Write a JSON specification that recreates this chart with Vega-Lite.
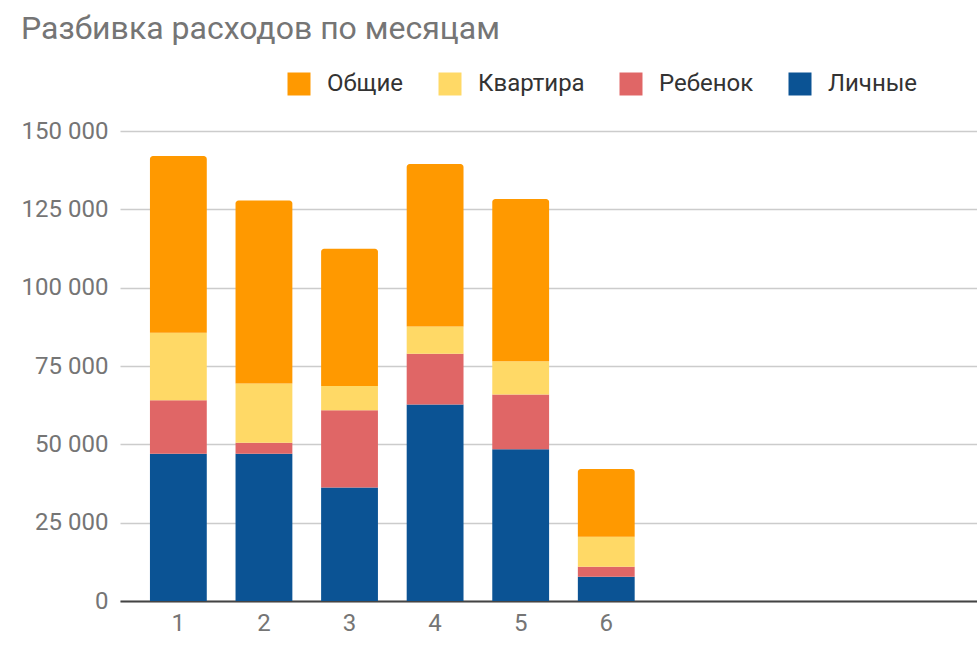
{
  "$schema": "https://vega.github.io/schema/vega-lite/v6.json",
  "width": 857,
  "height": 470,
  "autosize": {"type": "none"},
  "padding": {"left": 120, "top": 131, "right": 0, "bottom": 56},
  "background": "white",
  "config": {
    "font": "Roboto",
    "view": {"stroke": null},
    "locale": {"number": {"decimal": ",", "thousands": " ", "grouping": [3], "currency": ["", ""]}}
  },
  "title": {
    "text": "Разбивка расходов по месяцам",
    "anchor": "start",
    "frame": "group",
    "fontSize": 32,
    "fontWeight": "normal",
    "color": "#757575",
    "dx": -99,
    "dy": -22
  },
  "data": {
    "values": [
      {"month": 1, "series": "Личные", "rank": 1, "value": 47000},
      {"month": 1, "series": "Ребенок", "rank": 2, "value": 17100},
      {"month": 1, "series": "Квартира", "rank": 3, "value": 21500},
      {"month": 1, "series": "Общие", "rank": 4, "value": 56400},
      {"month": 2, "series": "Личные", "rank": 1, "value": 47000},
      {"month": 2, "series": "Ребенок", "rank": 2, "value": 3500},
      {"month": 2, "series": "Квартира", "rank": 3, "value": 18900},
      {"month": 2, "series": "Общие", "rank": 4, "value": 58400},
      {"month": 3, "series": "Личные", "rank": 1, "value": 36200},
      {"month": 3, "series": "Ребенок", "rank": 2, "value": 24650},
      {"month": 3, "series": "Квартира", "rank": 3, "value": 7800},
      {"month": 3, "series": "Общие", "rank": 4, "value": 43750},
      {"month": 4, "series": "Личные", "rank": 1, "value": 62700},
      {"month": 4, "series": "Ребенок", "rank": 2, "value": 16200},
      {"month": 4, "series": "Квартира", "rank": 3, "value": 8700},
      {"month": 4, "series": "Общие", "rank": 4, "value": 51900},
      {"month": 5, "series": "Личные", "rank": 1, "value": 48400},
      {"month": 5, "series": "Ребенок", "rank": 2, "value": 17500},
      {"month": 5, "series": "Квартира", "rank": 3, "value": 10600},
      {"month": 5, "series": "Общие", "rank": 4, "value": 51800},
      {"month": 6, "series": "Личные", "rank": 1, "value": 7750},
      {"month": 6, "series": "Ребенок", "rank": 2, "value": 3150},
      {"month": 6, "series": "Квартира", "rank": 3, "value": 9600},
      {"month": 6, "series": "Общие", "rank": 4, "value": 21600}
    ]
  },
  "transform": [
    {"stack": "value", "groupby": ["month"], "sort": [{"field": "rank", "order": "ascending"}], "as": ["y0", "y1"]}
  ],
  "encoding": {
    "x": {
      "field": "month",
      "type": "ordinal",
      "scale": {"domain": [1, 2, 3, 4, 5, 6, 7, 8, 9, 10], "paddingInner": 0.336, "paddingOuter": 0.175, "align": 1},
      "axis": {
        "title": null,
        "labelAngle": 0,
        "labelFontSize": 24,
        "labelColor": "#757575",
        "labelPadding": 10,
        "ticks": false,
        "domainColor": "#444444",
        "domainWidth": 2,
        "labelExpr": "datum.value > 6 ? '' : datum.label"
      }
    },
    "y": {
      "field": "y1",
      "type": "quantitative",
      "scale": {"domain": [0, 150000], "nice": false},
      "axis": {
        "title": null,
        "values": [0, 25000, 50000, 75000, 100000, 125000, 150000],
        "format": ",d",
        "labelFontSize": 24,
        "labelColor": "#757575",
        "labelPadding": 12,
        "ticks": false,
        "domain": false,
        "gridColor": "#cccccc",
        "gridWidth": 1.5
      }
    },
    "y2": {"field": "y0"},
    "color": {
      "field": "series",
      "type": "nominal",
      "scale": {
        "domain": ["Общие", "Квартира", "Ребенок", "Личные"],
        "range": ["#ff9900", "#ffd966", "#e06666", "#0b5394"]
      },
      "legend": {
        "title": null,
        "orient": "none",
        "legendX": 167,
        "legendY": -59,
        "direction": "horizontal",
        "symbolType": "square",
        "symbolSize": 529,
        "symbolStrokeWidth": 0,
        "labelFontSize": 24,
        "labelColor": "#333333",
        "labelOffset": 16,
        "columnPadding": 34
      }
    }
  },
  "layer": [
    {
      "transform": [{"filter": "datum.series !== 'Общие'"}],
      "mark": {"type": "bar"}
    },
    {
      "transform": [{"filter": "datum.series === 'Общие'"}],
      "mark": {"type": "bar", "cornerRadiusTopLeft": 3, "cornerRadiusTopRight": 3}
    }
  ]
}
